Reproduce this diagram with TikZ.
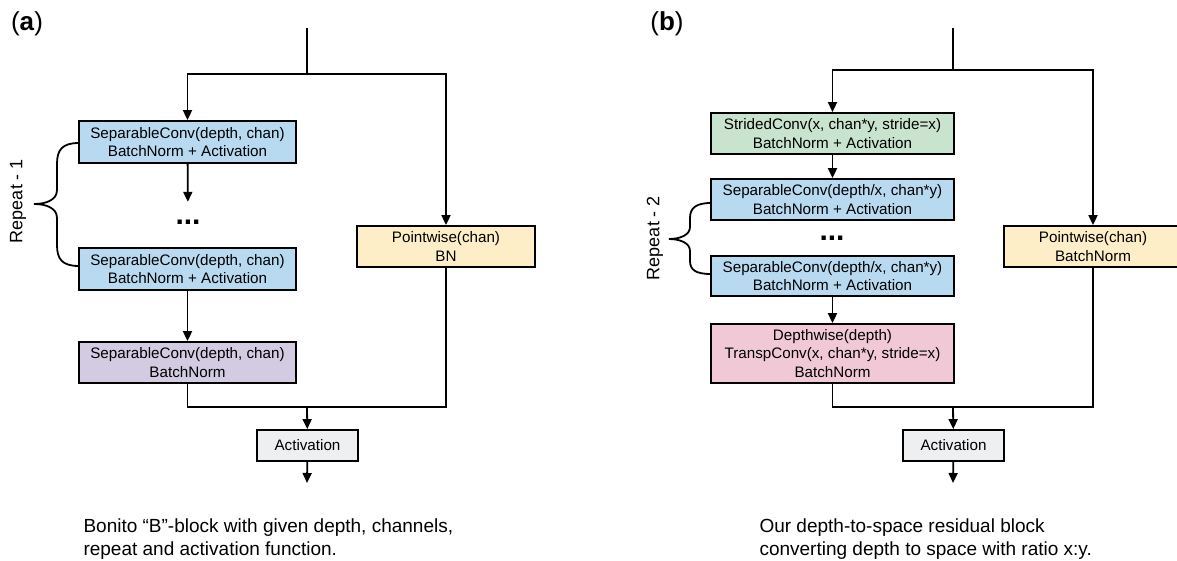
\documentclass[tikz,border=0pt]{standalone}
\usepackage{fontspec}
\setmainfont{Liberation Sans}
\usetikzlibrary{arrows.meta}

\definecolor{convblue}{RGB}{184,218,240}
\definecolor{convgreen}{RGB}{201,228,206}
\definecolor{convpink}{RGB}{240,200,214}
\definecolor{convpurple}{RGB}{210,203,226}
\definecolor{convyellow}{RGB}{253,238,199}
\definecolor{convgray}{RGB}{238,239,241}

\tikzset{
  block/.style={draw,line width=1.8pt,align=center,inner sep=0pt,
    font=\fontsize{15.2}{18.3}\selectfont},
  wideblock/.style={block,minimum width=217pt,minimum height=42pt},
  rblock/.style={block,minimum width=243pt,minimum height=41pt},
  line/.style={line width=1.8pt},
  arr/.style={line,-{Triangle[length=10pt,width=9pt]}},
  dots/.style={font=\fontsize{30}{30}\bfseries,minimum height=40pt,inner sep=0pt},
  repeattxt/.style={rotate=90,font=\fontsize{18}{18}\selectfont},
  caption/.style={anchor=west,align=left,font=\fontsize{19}{22.5}\selectfont},
  panel/.style={font=\fontsize{26}{26}\selectfont}
}

\begin{document}
\begin{tikzpicture}[x=1pt,y=-1pt]
   \useasboundingbox (0,0) rectangle (1177,561);

   % (a)
   \node[panel] (la) at (27,24) {(\textbf{a})};
   \coordinate (top) at (307,28);
   \coordinate (split) at (307,74);
   \coordinate (merge) at (307,407);
   \coordinate (out) at (307,483);

   \node[wideblock,fill=convblue] (sep1) at (187.5,142) {SeparableConv(depth, chan)\\BatchNorm + Activation};
   \node[dots] (dots1) at (188,222) {...};
   \node[wideblock,fill=convblue] (sep2) at (187.5,269) {SeparableConv(depth, chan)\\BatchNorm + Activation};
   \node[wideblock,minimum height=41pt,fill=convpurple] (sep3) at (187.5,362.5) {SeparableConv(depth, chan)\\BatchNorm};
   \node[block,minimum width=178pt,minimum height=41pt,fill=convyellow] (pw) at (446,246.5) {Pointwise(chan)\\BN};
   \node[block,minimum width=101pt,minimum height=31pt,fill=convgray] (act) at (307.5,445.5) {Activation};

   \draw[line] (top) -- (split);
   \draw[arr] (split) -| (sep1);
   \draw[arr] (split) -| (pw);
   \draw[arr] (sep1) -- (dots1);
   \draw[arr] (sep2) -- (sep3);
   \draw[line] (sep3) |- (merge);
   \draw[line] (pw) |- (merge);
   \draw[arr] (merge) -- (act);
   \draw[arr] (act) -- (out);

   \draw[line] (79,143) .. controls (62,143) and (57,150) .. (57,164) -- (57,190)
      .. controls (57,200) and (46,204) .. (34,204)
      .. controls (46,204) and (57,208) .. (57,218) -- (57,245)
      .. controls (57,259) and (62,266) .. (79,266);
   \node[repeattxt] (rep1) at (18,201) {Repeat - 1};

   \node[caption] (cap1) at (80,539) {Bonito “B”-block with given depth, channels,\\repeat and activation function.};

   % (b)
   \node[panel] (lb) at (667,24) {(\textbf{b})};
   \coordinate (rtop) at (953,28);
   \coordinate (rsplit) at (953,70);
   \coordinate (rmerge) at (953,407);
   \coordinate (rout) at (953,483);

   \node[rblock,fill=convgreen] (strided) at (832.5,133.5) {StridedConv(x, chan*y, stride=x)\\BatchNorm + Activation};
   \node[rblock,fill=convblue] (rsep1) at (832.5,199.5) {SeparableConv(depth/x, chan*y)\\BatchNorm + Activation};
   \node[dots] (dots2) at (832,238) {...};
   \node[rblock,minimum height=40pt,fill=convblue] (rsep2) at (832.5,276) {SeparableConv(depth/x, chan*y)\\BatchNorm + Activation};
   \node[rblock,minimum height=59pt,fill=convpink] (depthw) at (832.5,353.5) {Depthwise(depth)\\TranspConv(x, chan*y, stride=x)\\BatchNorm};
   \node[block,minimum width=178pt,minimum height=41pt,fill=convyellow] (rpw) at (1093,246.5) {Pointwise(chan)\\BatchNorm};
   \node[block,minimum width=101pt,minimum height=31pt,fill=convgray] (ract) at (953.5,445.5) {Activation};

   \draw[line] (rtop) -- (rsplit);
   \draw[arr] (rsplit) -| (strided);
   \draw[arr] (rsplit) -| (rpw);
   \draw[arr] (strided) -- (rsep1);
   \draw[arr] (rsep2) -- (depthw);
   \draw[line] (depthw) |- (rmerge);
   \draw[line] (rpw) |- (rmerge);
   \draw[arr] (rmerge) -- (ract);
   \draw[arr] (ract) -- (rout);

   \draw[line] (711,203) .. controls (696,203) and (690,208) .. (690,218) -- (690,227)
      .. controls (690,235) and (680,239) .. (669,239)
      .. controls (680,239) and (690,243) .. (690,251) -- (690,261)
      .. controls (690,270) and (696,274) .. (711,274);
   \node[repeattxt] (rep2) at (655,238) {Repeat - 2};

   \node[caption] (cap2) at (756,539) {Our depth-to-space residual block\\converting depth to space with ratio x:y.};
\end{tikzpicture}
\end{document}
